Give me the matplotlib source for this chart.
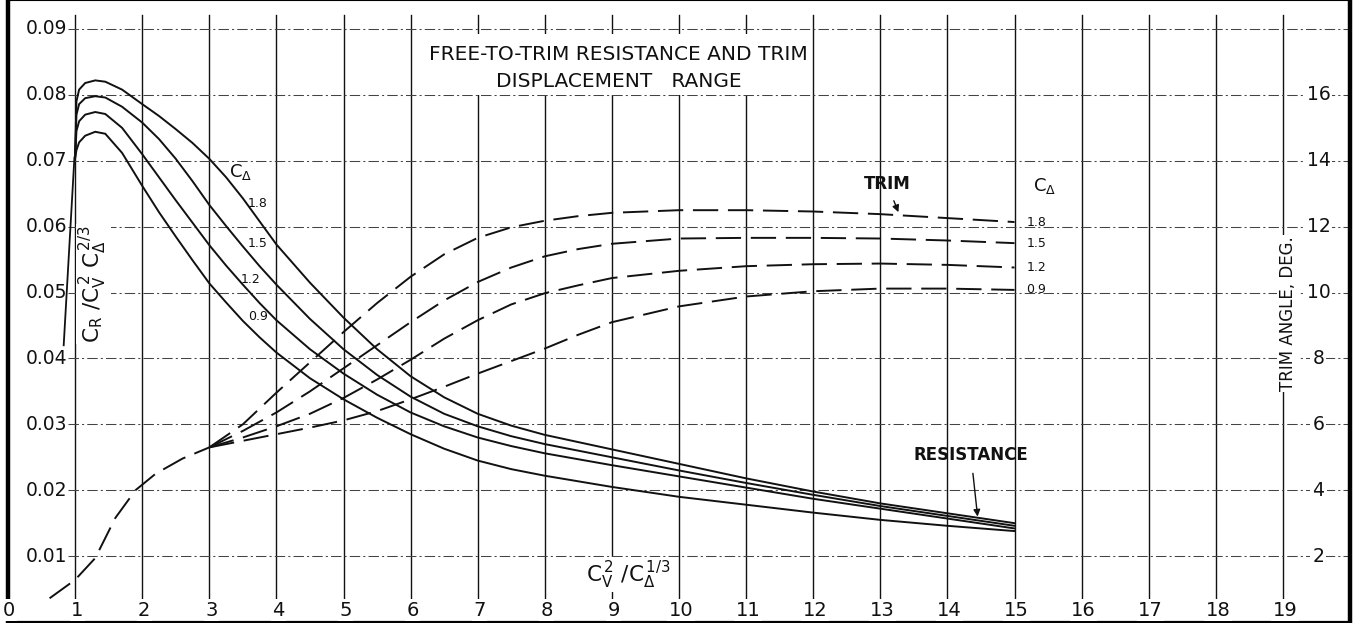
import matplotlib
matplotlib.use("Agg")
import matplotlib.pyplot as plt
from matplotlib.patches import Rectangle

plt.rcParams['font.family'] = ['DejaVu Sans']

# ---------------- data ----------------
x_ticks = list(range(0, 20))
y_ticks = [0.01, 0.02, 0.03, 0.04, 0.05, 0.06, 0.07, 0.08, 0.09]
y_tick_labels = ["0.01", "0.02", "0.03", "0.04", "0.05", "0.06", "0.07", "0.08", "0.09"]
trim_ticks = [2, 4, 6, 8, 10, 12, 14, 16]   # trim angle (deg) = 200 * y
c_delta = ["0.9", "1.2", "1.5", "1.8"]

# resistance curves  (x = Cv^2/CΔ^1/3, y = CR/Cv^2 CΔ^2/3)
res_x = [1.0, 1.02, 1.06, 1.15, 1.3, 1.45, 1.7, 2.0, 2.25, 2.5, 2.75, 3.0, 3.25, 3.5,
         3.75, 4.0, 4.5, 5.0, 5.5, 6.0, 6.5, 7.0, 7.5, 8.0, 9.0, 10.0, 11.0, 12.0,
         13.0, 14.0, 15.0]
res_18 = [0.0705, 0.0790, 0.0808, 0.0818, 0.0822, 0.0820, 0.0808, 0.0786, 0.0768, 0.0748,
          0.0727, 0.0703, 0.0675, 0.0643, 0.0608, 0.0573, 0.0515, 0.0462, 0.0414, 0.0373,
          0.0341, 0.0316, 0.0298, 0.0284, 0.0262, 0.0240, 0.0218, 0.0198, 0.0180, 0.0165,
          0.0150]
res_15 = [0.0705, 0.0770, 0.0786, 0.0795, 0.0798, 0.0796, 0.0782, 0.0758, 0.0733, 0.0703,
          0.0669, 0.0633, 0.0601, 0.0570, 0.0540, 0.0512, 0.0460, 0.0414, 0.0375, 0.0342,
          0.0316, 0.0297, 0.0282, 0.0270, 0.0250, 0.0230, 0.0211, 0.0193, 0.0176, 0.0161,
          0.0146]
res_12 = [0.0705, 0.0745, 0.0760, 0.0770, 0.0774, 0.0771, 0.0750, 0.0710, 0.0675, 0.0640,
          0.0606, 0.0572, 0.0541, 0.0512, 0.0484, 0.0458, 0.0414, 0.0377, 0.0345, 0.0318,
          0.0297, 0.0280, 0.0267, 0.0256, 0.0238, 0.0221, 0.0204, 0.0187, 0.0172, 0.0157,
          0.0142]
res_09 = [0.0705, 0.0716, 0.0728, 0.0738, 0.0744, 0.0741, 0.0712, 0.0662, 0.0622, 0.0585,
          0.0549, 0.0514, 0.0485, 0.0457, 0.0432, 0.0409, 0.0370, 0.0338, 0.0310, 0.0285,
          0.0263, 0.0245, 0.0232, 0.0222, 0.0205, 0.0190, 0.0178, 0.0166, 0.0155, 0.0146,
          0.0138]

# common trim curve at low speed (y units; trim deg = 200*y)
trim_low_x = [0.62, 1.0, 1.3, 1.6, 1.9, 2.2, 2.6, 3.0]
trim_low_y = [0.0036, 0.0064, 0.0097, 0.0158, 0.0200, 0.0225, 0.0248, 0.0265]

trim_x = [3.0, 3.5, 4.0, 4.5, 5.0, 5.5, 6.0, 6.5, 7.0, 7.5, 8.0, 8.5, 9.0, 10.0,
          11.0, 12.0, 13.0, 14.0, 15.0]
trim_18 = [0.0265, 0.0300, 0.0348, 0.0394, 0.0440, 0.0484, 0.0524, 0.0558, 0.0583, 0.0599,
           0.0609, 0.0616, 0.0621, 0.0625, 0.0625, 0.0623, 0.0619, 0.0613, 0.0607]
trim_15 = [0.0265, 0.0290, 0.0318, 0.0350, 0.0385, 0.0420, 0.0455, 0.0488, 0.0516, 0.0538,
           0.0555, 0.0566, 0.0574, 0.0582, 0.0583, 0.0583, 0.0582, 0.0579, 0.0575]
trim_12 = [0.0265, 0.0280, 0.0297, 0.0316, 0.0340, 0.0368, 0.0398, 0.0430, 0.0458, 0.0482,
           0.0499, 0.0511, 0.0522, 0.0533, 0.0540, 0.0543, 0.0544, 0.0542, 0.0538]
trim_09 = [0.0265, 0.0275, 0.0285, 0.0295, 0.0306, 0.0320, 0.0338, 0.0357, 0.0377, 0.0396,
           0.0415, 0.0436, 0.0455, 0.0479, 0.0494, 0.0502, 0.0506, 0.0506, 0.0504]

res_curves = [res_09, res_12, res_15, res_18]
trim_curves = [trim_09, trim_12, trim_15, trim_18]

# ---------------- figure ----------------
W, H = 1361, 623
fig = plt.figure(figsize=(W / 100, H / 100), dpi=100)
ax = fig.add_axes([8 / W, 1 / H, 1342 / W, 622 / H])
ax.set_xlim(0, 20)
ax.set_ylim(0, 0.0944)
ax.set_xticks([])
ax.set_yticks([])
for s in ["left", "right"]:
    ax.spines[s].set_linewidth(3.2)
ax.spines["bottom"].set_linewidth(1.6)
ax.spines["top"].set_linewidth(0.8)

ink = "#111111"
# vertical grid lines
for xv in range(1, 20):
    ax.plot([xv, xv], [0, 0.0921], color=ink, lw=1.0, zorder=1)
# horizontal grid lines (dash-dot)
for yv in y_ticks:
    ax.plot([0.9, 20], [yv, yv], color="#444444", lw=0.75,
            linestyle=(0, (10, 3, 2, 3)), zorder=1)

# white area behind title
ax.add_patch(Rectangle((6.05, 0.0800), 5.9, 0.0093, facecolor="white",
                       edgecolor="none", zorder=2))
ax.text(9.1, 0.0861, "FREE-TO-TRIM RESISTANCE AND TRIM", ha="center", va="center",
        fontsize=14.5, color=ink, zorder=3)
ax.text(9.1, 0.0821, "DISPLACEMENT   RANGE", ha="center", va="center",
        fontsize=14.5, color=ink, zorder=3)

# left tick labels
for yv, lab in zip(y_ticks, y_tick_labels):
    ax.text(0.88, yv, lab, ha="right", va="center", fontsize=13.5, color=ink, zorder=4)
# bottom tick labels
for xv in x_ticks:
    ax.text(xv + (0.03 if xv else 0.02), 0.0018, str(xv), ha="center", va="center",
            fontsize=14, color=ink, zorder=4,
            bbox=dict(facecolor="white", edgecolor="none", pad=1.0))
# right tick labels (trim angle)
for tv in trim_ticks:
    ax.text(19.53, tv / 200, str(tv), ha="center", va="center", fontsize=13.5,
            color=ink, zorder=4,
            bbox=dict(facecolor="white", edgecolor="none", pad=1.5))

# axis titles
ax.text(1.27, 0.0513, r"$\mathregular{C_R\ /C_V^{\,2}\ C_\Delta^{\,2/3}}$", rotation=90,
        ha="center", va="center", fontsize=15.5, color=ink, zorder=4,
        bbox=dict(facecolor="white", edgecolor="none", pad=1.0))
ax.text(9.25, 0.0072, r"$\mathregular{C_V^{\,2}\ /C_\Delta^{\,1/3}}$",
        ha="center", va="center", fontsize=15.5, color=ink, zorder=4,
        bbox=dict(facecolor="white", edgecolor="none", pad=1.0))
ax.text(19.07, 0.0468, "TRIM ANGLE, DEG.", rotation=90, ha="center", va="center",
        fontsize=12, color=ink, zorder=4,
        bbox=dict(facecolor="white", edgecolor="none", pad=1.0))

# leader line to resistance axis
ax.plot([0.83, 0.99], [0.042, 0.0705], color=ink, lw=1.3, zorder=3)

# resistance curves
for ys in res_curves:
    ax.plot(res_x, ys, color=ink, lw=1.4, zorder=3, solid_joinstyle="round")

# trim curves
dash = (0, (13, 5))
ax.plot(trim_low_x, trim_low_y, color=ink, lw=1.4, linestyle=dash, zorder=3)
for ys in trim_curves:
    ax.plot(trim_x, ys, color=ink, lw=1.4, linestyle=dash, zorder=3)

# curve labels (left, resistance)
ax.text(3.47, 0.0683, r"$\mathregular{C_\Delta}$", fontsize=13, ha="center",
        va="center", color=ink, zorder=4)
for lab, (lx, ly) in zip(c_delta, [(3.72, 0.0463), (3.62, 0.0520), (3.72, 0.0575),
                                   (3.72, 0.0635)]):
    ax.text(lx, ly, lab, fontsize=9, ha="center", va="center", color=ink, zorder=4)

# curve labels (right, trim)
ax.text(15.45, 0.0662, r"$\mathregular{C_\Delta}$", fontsize=13, ha="center",
        va="center", color=ink, zorder=4)
for lab, ys in zip(c_delta, trim_curves):
    ax.text(15.18, ys[-1], lab, fontsize=9, ha="left", va="center", color=ink, zorder=4)

# TRIM annotation
ax.annotate("TRIM", xy=(13.27, 0.0622), xytext=(13.1, 0.0665), fontsize=12,
            fontweight="bold", ha="center", va="center", color=ink, zorder=5,
            arrowprops=dict(arrowstyle="-|>", color=ink, lw=1.0,
                            shrinkA=4, shrinkB=0, mutation_scale=10))
# RESISTANCE annotation
ax.annotate("RESISTANCE", xy=(14.45, 0.0160), xytext=(14.35, 0.0254), fontsize=12,
            fontweight="bold", ha="center", va="center", color=ink, zorder=5,
            arrowprops=dict(arrowstyle="-|>", color=ink, lw=1.0,
                            shrinkA=5, shrinkB=0, mutation_scale=10))

fig.savefig("out.png", dpi=100)
